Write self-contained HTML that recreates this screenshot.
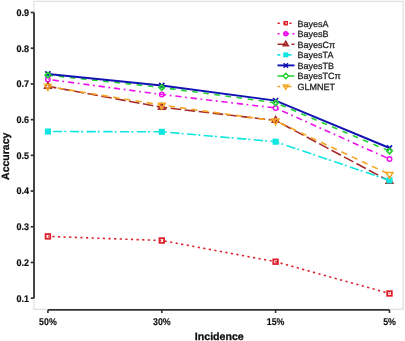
<!DOCTYPE html>
<html><head><meta charset="utf-8"><style>
html,body{margin:0;padding:0;background:#fff;}
body{width:405px;height:341px;overflow:hidden;}
svg{display:block;will-change:transform;}
text{font-family:"Liberation Sans",sans-serif;text-rendering:geometricPrecision;}
</style></head><body>
<svg width="405" height="341" viewBox="0 0 405 341">
<rect width="405" height="341" fill="#fff"/>

<rect x="34" y="1.3" width="369.1" height="308" fill="none" stroke="#dcdcdc" stroke-width="1.1"/>
<path d="M34 12.5 V298.2" stroke="#333" stroke-width="1.8" fill="none"/>
<path d="M30.7 12.50 H34" stroke="#333" stroke-width="1.7"/>
<text transform="translate(29 15.85) scale(0.94 1)" font-size="9.6" font-weight="bold" text-anchor="end" fill="#111" stroke="#111" stroke-width="0.2">0.9</text>
<path d="M30.7 48.21 H34" stroke="#333" stroke-width="1.7"/>
<text transform="translate(29 51.56) scale(0.94 1)" font-size="9.6" font-weight="bold" text-anchor="end" fill="#111" stroke="#111" stroke-width="0.2">0.8</text>
<path d="M30.7 83.92 H34" stroke="#333" stroke-width="1.7"/>
<text transform="translate(29 87.27) scale(0.94 1)" font-size="9.6" font-weight="bold" text-anchor="end" fill="#111" stroke="#111" stroke-width="0.2">0.7</text>
<path d="M30.7 119.63 H34" stroke="#333" stroke-width="1.7"/>
<text transform="translate(29 122.98) scale(0.94 1)" font-size="9.6" font-weight="bold" text-anchor="end" fill="#111" stroke="#111" stroke-width="0.2">0.6</text>
<path d="M30.7 155.34 H34" stroke="#333" stroke-width="1.7"/>
<text transform="translate(29 158.69) scale(0.94 1)" font-size="9.6" font-weight="bold" text-anchor="end" fill="#111" stroke="#111" stroke-width="0.2">0.5</text>
<path d="M30.7 191.05 H34" stroke="#333" stroke-width="1.7"/>
<text transform="translate(29 194.40) scale(0.94 1)" font-size="9.6" font-weight="bold" text-anchor="end" fill="#111" stroke="#111" stroke-width="0.2">0.4</text>
<path d="M30.7 226.76 H34" stroke="#333" stroke-width="1.7"/>
<text transform="translate(29 230.11) scale(0.94 1)" font-size="9.6" font-weight="bold" text-anchor="end" fill="#111" stroke="#111" stroke-width="0.2">0.3</text>
<path d="M30.7 262.47 H34" stroke="#333" stroke-width="1.7"/>
<text transform="translate(29 265.82) scale(0.94 1)" font-size="9.6" font-weight="bold" text-anchor="end" fill="#111" stroke="#111" stroke-width="0.2">0.2</text>
<path d="M30.7 298.18 H34" stroke="#333" stroke-width="1.7"/>
<text transform="translate(29 301.53) scale(0.94 1)" font-size="9.6" font-weight="bold" text-anchor="end" fill="#111" stroke="#111" stroke-width="0.2">0.1</text>
<path d="M47.9 309.9 H389.5" stroke="#333" stroke-width="1.8" fill="none"/>
<path d="M47.9 309.9 V313" stroke="#333" stroke-width="1.6"/>
<text transform="translate(47.9 324.6) scale(0.9 1)" font-size="9.8" font-weight="bold" text-anchor="middle" fill="#111" stroke="#111" stroke-width="0.15">50%</text>
<path d="M161.8 309.9 V313" stroke="#333" stroke-width="1.6"/>
<text transform="translate(161.8 324.6) scale(0.9 1)" font-size="9.8" font-weight="bold" text-anchor="middle" fill="#111" stroke="#111" stroke-width="0.15">30%</text>
<path d="M275.6 309.9 V313" stroke="#333" stroke-width="1.6"/>
<text transform="translate(275.6 324.6) scale(0.9 1)" font-size="9.8" font-weight="bold" text-anchor="middle" fill="#111" stroke="#111" stroke-width="0.15">15%</text>
<path d="M389.5 309.9 V313" stroke="#333" stroke-width="1.6"/>
<text transform="translate(389.5 324.6) scale(0.9 1)" font-size="9.8" font-weight="bold" text-anchor="middle" fill="#111" stroke="#111" stroke-width="0.15">5%</text>
<text x="219.3" y="340.1" font-size="10.6" font-weight="bold" text-anchor="middle" fill="#111" stroke="#111" stroke-width="0.3">Incidence</text>
<text transform="translate(9.1 156.3) rotate(-90)" x="0" y="0" font-size="10.5" font-weight="bold" text-anchor="middle" fill="#111" stroke="#111" stroke-width="0.3">Accuracy</text>
<polyline points="47.90,236.40 161.80,240.50 275.60,261.70 389.50,293.50" fill="none" stroke="#dc1f2a" stroke-width="1.6" stroke-dasharray="2.2 3.42" stroke-dashoffset="1.22"/>
<polyline points="47.90,79.40 161.80,94.45 275.60,108.00 389.50,159.10" fill="none" stroke="#ee10ee" stroke-width="1.6" stroke-dasharray="6.2 3.6 1.8 3.87" stroke-dashoffset="10.71"/>
<polyline points="47.90,86.30 161.80,107.30 275.60,120.40 389.50,181.20" fill="none" stroke="#a52a2a" stroke-width="1.6" stroke-dasharray="10.6 3.49" stroke-dashoffset="2.09"/>
<polyline points="47.90,131.50 161.80,131.80 275.60,141.70 389.50,180.40" fill="none" stroke="#10e6e0" stroke-width="1.6" stroke-dasharray="9.3 2 2 3.45" stroke-dashoffset="11.59"/>
<polyline points="47.90,75.10 161.80,87.50 275.60,102.80 389.50,151.10" fill="none" stroke="#22d22e" stroke-width="1.6" stroke-dasharray="5.6 5.6" stroke-dashoffset="0.4"/>
<polyline points="47.90,86.50 161.80,105.10 275.60,120.90 389.50,174.40" fill="none" stroke="#f5a623" stroke-width="1.6" stroke-dasharray="6.3 4.98" stroke-dashoffset="1.54"/>
<polyline points="47.90,74.00 161.80,85.50 275.60,100.60 389.50,148.00" fill="none" stroke="#1212b4" stroke-width="1.9"/>
<rect x="45.60" y="234.10" width="4.61" height="4.61" fill="none" stroke="#dc1f2a" stroke-width="1.8"/>
<rect x="159.50" y="238.20" width="4.61" height="4.61" fill="none" stroke="#dc1f2a" stroke-width="1.8"/>
<rect x="273.30" y="259.40" width="4.61" height="4.61" fill="none" stroke="#dc1f2a" stroke-width="1.8"/>
<rect x="387.20" y="291.20" width="4.61" height="4.61" fill="none" stroke="#dc1f2a" stroke-width="1.8"/>
<circle cx="47.90" cy="79.40" r="2.25" fill="none" stroke="#ee10ee" stroke-width="1.5"/>
<circle cx="161.80" cy="94.45" r="2.25" fill="none" stroke="#ee10ee" stroke-width="1.5"/>
<circle cx="275.60" cy="108.00" r="2.25" fill="none" stroke="#ee10ee" stroke-width="1.5"/>
<circle cx="389.50" cy="159.10" r="2.25" fill="none" stroke="#ee10ee" stroke-width="1.5"/>
<path d="M47.90 82.41 L51.27 88.24 L44.53 88.24 Z" fill="none" stroke="#a52a2a" stroke-width="1.5"/>
<path d="M161.80 103.41 L165.17 109.24 L158.43 109.24 Z" fill="none" stroke="#a52a2a" stroke-width="1.5"/>
<path d="M275.60 116.51 L278.97 122.34 L272.23 122.34 Z" fill="none" stroke="#a52a2a" stroke-width="1.5"/>
<path d="M389.50 177.31 L392.87 183.14 L386.13 183.14 Z" fill="none" stroke="#a52a2a" stroke-width="1.5"/>
<rect x="44.85" y="128.45" width="6.11" height="6.11" fill="#10e6e0"/>
<rect x="158.75" y="128.75" width="6.11" height="6.11" fill="#10e6e0"/>
<rect x="272.55" y="138.65" width="6.11" height="6.11" fill="#10e6e0"/>
<rect x="386.45" y="177.35" width="6.11" height="6.11" fill="#10e6e0"/>
<path d="M45.30 71.40 L50.50 76.60 M50.50 71.40 L45.30 76.60" stroke="#1212b4" stroke-width="1.6"/>
<path d="M159.20 82.90 L164.40 88.10 M164.40 82.90 L159.20 88.10" stroke="#1212b4" stroke-width="1.6"/>
<path d="M273.00 98.00 L278.20 103.20 M278.20 98.00 L273.00 103.20" stroke="#1212b4" stroke-width="1.6"/>
<path d="M386.90 145.40 L392.10 150.60 M392.10 145.40 L386.90 150.60" stroke="#1212b4" stroke-width="1.6"/>
<path d="M47.90 72.41 L50.59 75.10 L47.90 77.79 L45.21 75.10 Z" fill="none" stroke="#22d22e" stroke-width="1.7"/>
<path d="M161.80 84.81 L164.49 87.50 L161.80 90.19 L159.11 87.50 Z" fill="none" stroke="#22d22e" stroke-width="1.7"/>
<path d="M275.60 100.11 L278.29 102.80 L275.60 105.49 L272.91 102.80 Z" fill="none" stroke="#22d22e" stroke-width="1.7"/>
<path d="M389.50 148.41 L392.19 151.10 L389.50 153.79 L386.81 151.10 Z" fill="none" stroke="#22d22e" stroke-width="1.7"/>
<path d="M47.90 90.39 L51.27 84.56 L44.53 84.56 Z" fill="none" stroke="#f5a623" stroke-width="1.5"/>
<path d="M161.80 108.99 L165.17 103.16 L158.43 103.16 Z" fill="none" stroke="#f5a623" stroke-width="1.5"/>
<path d="M275.60 124.79 L278.97 118.96 L272.23 118.96 Z" fill="none" stroke="#f5a623" stroke-width="1.5"/>
<path d="M389.50 178.29 L392.87 172.46 L386.13 172.46 Z" fill="none" stroke="#f5a623" stroke-width="1.5"/>
<path d="M277.6 23.20 H294.5" stroke="#dc1f2a" stroke-width="1.55" fill="none" stroke-dasharray="2.2 3.7"/>
<rect x="284.25" y="21.65" width="3.10" height="3.10" fill="none" stroke="#dc1f2a" stroke-width="1.4"/>
<text x="297.6" y="26.60" font-size="9" fill="#1a1a1a" stroke="#1a1a1a" stroke-width="0.25">BayesA</text>
<path d="M277.5 33.75 H294.5" stroke="#ee10ee" stroke-width="1.55" fill="none" stroke-dasharray="2 3.5 6 3.5"/>
<circle cx="285.80" cy="33.75" r="1.90" fill="none" stroke="#ee10ee" stroke-width="1.6"/>
<text x="297.6" y="37.15" font-size="9" fill="#1a1a1a" stroke="#1a1a1a" stroke-width="0.25">BayesB</text>
<path d="M277.5 44.30 H294.5" stroke="#a52a2a" stroke-width="1.55" fill="none" stroke-dasharray="9.8 4.2"/>
<path d="M285.80 41.35 L288.36 45.78 L283.24 45.78 Z" fill="none" stroke="#a52a2a" stroke-width="1.5"/>
<text x="297.6" y="47.70" font-size="9" fill="#1a1a1a" stroke="#1a1a1a" stroke-width="0.25">BayesCπ</text>
<path d="M277.5 54.85 H294.1" stroke="#10e6e0" stroke-width="1.55" fill="none" stroke-dasharray="2.8 2.8 8.4 2.8"/>
<rect x="283.33" y="52.38" width="4.94" height="4.94" fill="#10e6e0"/>
<text x="297.6" y="58.25" font-size="9" fill="#1a1a1a" stroke="#1a1a1a" stroke-width="0.25">BayesTA</text>
<path d="M277.5 65.40 H294.5" stroke="#1212b4" stroke-width="1.9" fill="none"/>
<path d="M283.60 63.20 L288.00 67.60 M288.00 63.20 L283.60 67.60" stroke="#1212b4" stroke-width="1.6"/>
<text x="297.6" y="68.80" font-size="9" fill="#1a1a1a" stroke="#1a1a1a" stroke-width="0.25">BayesTB</text>
<path d="M277.5 75.95 H294.5" stroke="#22d22e" stroke-width="1.55" fill="none" stroke-dasharray="5.6 5.6"/>
<path d="M285.80 73.19 L288.56 75.95 L285.80 78.71 L283.04 75.95 Z" fill="none" stroke="#22d22e" stroke-width="1.4"/>
<text x="297.6" y="79.35" font-size="9" fill="#1a1a1a" stroke="#1a1a1a" stroke-width="0.25">BayesTCπ</text>
<path d="M277.5 86.50 H294.1" stroke="#f5a623" stroke-width="1.55" fill="none" stroke-dasharray="2.8 2.8 8.4 2.8"/>
<path d="M285.80 89.45 L288.36 85.02 L283.24 85.02 Z" fill="none" stroke="#f5a623" stroke-width="1.3"/>
<text x="297.6" y="89.90" font-size="9" fill="#1a1a1a" stroke="#1a1a1a" stroke-width="0.25">GLMNET</text>
</svg>
</body></html>
